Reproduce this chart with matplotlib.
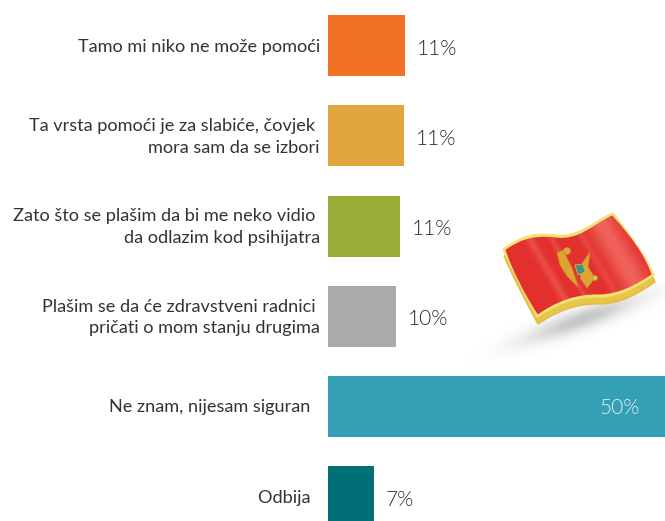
import numpy as np
import matplotlib.pyplot as plt
from matplotlib.path import Path
from matplotlib.patches import PathPatch, Polygon, Circle

plt.rcParams['font.family'] = ['Lato', 'DejaVu Sans']

# Chart data
labels = ['Tamo mi niko ne može pomoći',
          'Ta vrsta pomoći je za slabiće, čovjek \nmora sam da se izbori',
          'Zato što se plašim da bi me neko vidio \nda odlazim kod psihijatra',
          'Plašim se da će zdravstveni radnici \npričati o mom stanju drugima',
          'Ne znam, nijesam siguran  ',
          'Odbija  ']
values = [11.4, 11.3, 10.7, 10.1, 50, 6.8]
value_labels = ['11%', '11%', '11%', '10%', '50%', '7%']
colors = ['#f07024', '#e0a63d', '#9aab38', '#a8aba9', '#359fb3', '#006f76']

W, H = 665, 521
fig = plt.figure(figsize=(W / 100, H / 100), dpi=100)
ax = fig.add_axes([328 / W, 0, 337 / W, 1])
ax.barh(range(len(values)), values, height=0.676, color=colors)
ax.set_xlim(0, 50)
ax.set_ylim(5.27, -0.507)
ax.axis('off')

for i, v in enumerate(values):
    ax.annotate(labels[i], (0, i), xytext=(-8, -1), textcoords='offset pixels',
                ha='right', va='center', fontsize=13.1, color='#333333',
                linespacing=1.42, annotation_clip=False)
    if v == 50:
        ax.annotate(value_labels[i], (v, i), xytext=(-25, -2), textcoords='offset pixels',
                    ha='right', va='center', fontsize=15, color='#e4f1f3',
                    fontweight=300)
    else:
        ax.annotate(value_labels[i], (v, i), xytext=(12, -3), textcoords='offset pixels',
                    ha='left', va='center', fontsize=15, color='#2b2b2b',
                    fontweight=300, annotation_clip=False)

# Flag decoration, in pixel coordinates of the picture
deco = fig.add_axes([0, 0, 1, 1], zorder=3)
deco.axis('off')
deco.patch.set_alpha(0)

# soft shadow under the flag
yy, xx = np.mgrid[270:370:200j, 470:665:390j]
u = xx - 582
v = yy - (326 - 0.35 * (xx - 563))
shade = np.exp(-(u / 55) ** 2 - (v / 11) ** 2)
rgba = np.zeros(shade.shape + (4,))
rgba[..., :3] = 0.55
rgba[..., 3] = 0.5 * shade
deco.imshow(rgba, extent=(470, 665, 370, 270), aspect='auto', zorder=1)


def wave(dx, dy, s=0):
    verts = [(503 + s, 249 + s * 0.3),
             (518, 239 + s), (530, 232 + s), (553 + s, 235 + s),
             (580, 238 + s), (592, 222 + s), (613 - s * 0.3, 213 + s),
             (630, 235), (645, 255), (654 - s, 275 - s * 0.2),
             (635, 288 - s), (620, 296 - s), (600, 297 - s),
             (575, 296 - s), (555, 305 - s), (537 + s * 0.3, 317 - s),
             (525, 295), (512, 270), (503 + s, 249 + s * 0.3)]
    verts = [(x + dx, y + dy) for x, y in verts]
    return Path(verts, [Path.MOVETO] + [Path.CURVE4] * 18)


deco.add_patch(PathPatch(wave(1, 7), fc='#e8c54a', ec='#e0bb48', lw=1, zorder=2))
deco.add_patch(PathPatch(wave(0, 0), fc='#f4e272', ec='#f4e272', lw=1, zorder=3))

# red field with glossy bands, clipped to the flag outline
field_clip = PathPatch(wave(0, 0, 2.5), fc='none', ec='none', zorder=4)
deco.add_patch(field_clip)
yy, xx = np.mgrid[205:325:240j, 495:660:330j]
t = xx - 0.58 * (yy - 250)
gloss = (0.55 * np.exp(-((t - 617) / 16) ** 2) + 0.3 * np.exp(-((t - 536) / 5) ** 2)
         + 0.25 * np.exp(-((t - 558) / 3) ** 2) + 0.2 * np.exp(-((t - 590) / 4) ** 2))
red = np.array([0.89, 0.19, 0.18])
pink = np.array([0.98, 0.55, 0.50])
field = red + gloss[..., None] * (pink - red)
img = deco.imshow(np.clip(field, 0, 1), extent=(495, 660, 325, 205), aspect='auto', zorder=4)
img.set_clip_path(field_clip)

# emblem
gold = '#dca432'
edge = '#c98d25'
wing_l = [(557, 253), (563, 250), (572, 268), (578, 287), (567, 276), (560, 265)]
wing_r = [(590, 252), (588, 267), (595, 278), (587, 288), (580, 278), (583, 262)]
deco.add_patch(Polygon(wing_l, fc=gold, ec=edge, lw=0.5, joinstyle='round', zorder=6))
deco.add_patch(Polygon(wing_r, fc=gold, ec=edge, lw=0.5, joinstyle='round', zorder=6))
deco.add_patch(Circle((567, 251), 3.5, fc='#e2a63a', ec=edge, lw=0.5, zorder=6))
deco.add_patch(Circle((595, 278), 2.5, fc='#d8c070', ec=edge, lw=0.5, zorder=6))
deco.add_patch(Polygon([(575, 265), (583, 264), (585, 272), (578, 275)], fc='#3f8f8a', ec='#c9b040',
                       lw=0.7, zorder=7))

deco.set_xlim(0, W)
deco.set_ylim(H, 0)

fig.savefig('out.png', dpi=100)
